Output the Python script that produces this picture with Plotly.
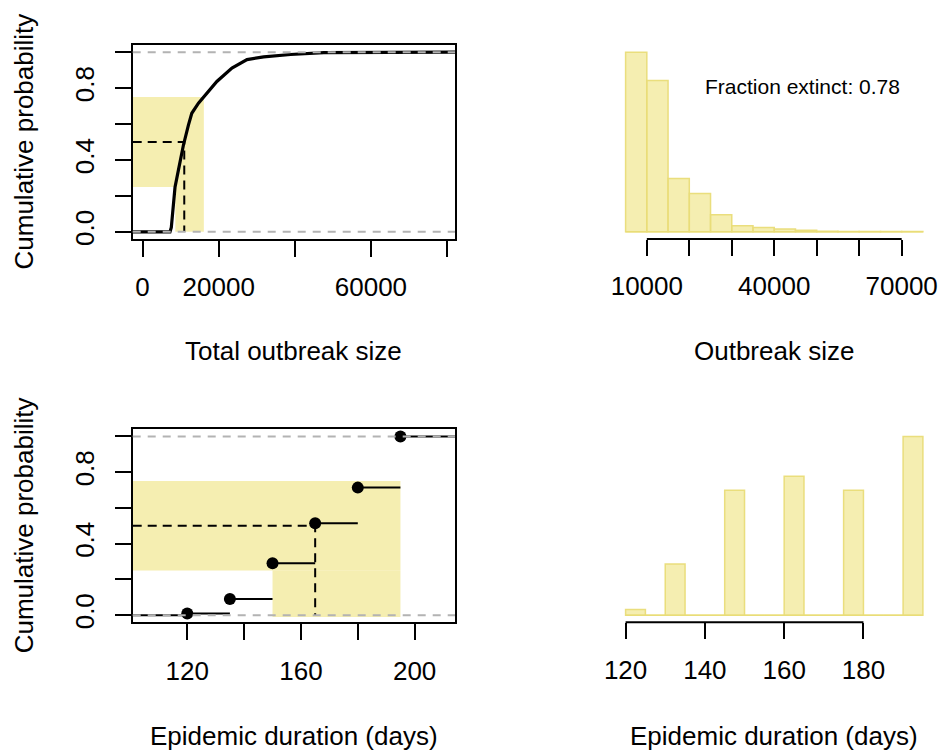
import numpy as np
import plotly.graph_objects as go

# ---------------- data ----------------
# Empirical CDF of total outbreak size (non-extinct runs)
ecdf_size = [7200, 7550, 8520, 9400, 10720, 12040, 12930, 14680, 16880,
             19520, 23480, 27440, 31820, 38870, 47650, 60000, 73000]
ecdf_prob = [0.0, 0.024, 0.248, 0.342, 0.482, 0.594, 0.66, 0.716, 0.772,
             0.837, 0.912, 0.959, 0.974, 0.987, 0.997, 0.999, 1.0]
size_quartiles = [8600, 10950, 16100]          # 25 %, 50 %, 75 %

# Histogram of outbreak size
size_breaks = list(range(5000, 80000, 5000))
size_counts = [860, 725, 255, 183, 82, 29, 21, 13, 8, 3, 2, 2, 1, 1]
fraction_extinct = 0.78

# Epidemic duration (days) and number of runs with each duration
duration_days = [120, 135, 150, 165, 180, 195]
duration_counts = [2, 18, 44, 49, 44, 63]
duration_quartiles = [150, 165, 195]
duration_breaks = list(range(120, 200, 5))

# tick labels
size_ticks = [0, 20000, 40000, 60000, 80000]
size_ticktext = ["0", "20000", "", "60000", ""]
hist_ticks = [10000, 20000, 30000, 40000, 50000, 60000, 70000]
hist_ticktext = ["10000", "", "", "40000", "", "", "70000"]
dur_ticks = [120, 140, 160, 180, 200]
dur_ticktext = ["120", "", "160", "", "200"]
durh_ticks = [120, 140, 160, 180]
durh_ticktext = ["120", "140", "160", "180"]
prob_ticks = [0, 0.2, 0.4, 0.6, 0.8, 1.0]
prob_ticktext = ["0.0", "", "0.4", "", "0.8", ""]

# ---------------- style ----------------
W, H = 942, 752
FONT = "Liberation Sans, Arial, Helvetica, sans-serif"
FS = 26
BAND = "rgba(240,230,140,0.68)"
BAR_FILL = "rgba(240,230,140,0.68)"
BAR_EDGE = "rgba(233,220,120,0.95)"
GREY = "#b3b3b3"

# plot regions (pixels) -> paper domains
def xdom(a, b):
    return [a / W, b / W]

def ydom(top, bottom):
    return [1 - bottom / H, 1 - top / H]

XL = xdom(132.7, 455.0)
XR = xdom(613.7, 934.8)
YT = ydom(45.0, 239.0)
YB = ydom(429.3, 622.3)

# axis ranges (R style 4 % padding)
def pad(lo, hi, f=0.04):
    d = (hi - lo) * f
    return [lo - d, hi + d]

size_xlim = [-2600, 82100]
dur_xlim = pad(duration_days[0] - 15, duration_days[-1] + 15)
prob_ylim = pad(0, 1)
size_hist_xlim = pad(size_breaks[0], size_breaks[-1])
size_hist_ylim = pad(0, max(size_counts))

dur_bins = np.zeros(len(duration_breaks) - 1)
for d, c in zip(duration_days, duration_counts):
    i = max(int(np.searchsorted(duration_breaks, d, side="left")) - 1, 0)
    dur_bins[i] += c
dur_hist_xlim = pad(duration_breaks[0], duration_breaks[-1])
dur_hist_ylim = pad(0, dur_bins.max())

dur_cdf = np.cumsum(duration_counts) / np.sum(duration_counts)

fig = go.Figure()
shapes = []

# ======== top-left: ECDF of outbreak size ========
q25, q50, q75 = size_quartiles
shapes += [
    dict(type="rect", xref="x", yref="y", x0=size_xlim[0], x1=q75, y0=0.25, y1=0.75,
         fillcolor=BAND, line=dict(width=0), layer="below"),
    dict(type="rect", xref="x", yref="y", x0=q25, x1=q75, y0=0, y1=0.25,
         fillcolor=BAND, line=dict(width=0), layer="below"),
]
fig.add_trace(go.Scatter(
    x=[size_xlim[0]] + ecdf_size + [size_xlim[1]],
    y=[0] + ecdf_prob + [1],
    mode="lines", line=dict(color="black", width=3.2),
    xaxis="x", yaxis="y", showlegend=False, hoverinfo="skip"))
fig.add_trace(go.Scatter(
    x=[size_xlim[0], q50, q50], y=[0.5, 0.5, 0],
    mode="lines", line=dict(color="black", width=2, dash="9px,6px"),
    xaxis="x", yaxis="y", showlegend=False, hoverinfo="skip"))

# ======== bottom-left: ECDF of epidemic duration ========
d25, d50, d75 = duration_quartiles
shapes += [
    dict(type="rect", xref="x3", yref="y3", x0=dur_xlim[0], x1=d75, y0=0.25, y1=0.75,
         fillcolor=BAND, line=dict(width=0), layer="below"),
    dict(type="rect", xref="x3", yref="y3", x0=d25, x1=d75, y0=-0.01, y1=0.25,
         fillcolor=BAND, line=dict(width=0), layer="below"),
]
sx, sy = [dur_xlim[0], duration_days[0], None], [0, 0, None]
ends = duration_days[1:] + [dur_xlim[1]]
for a, b, p in zip(duration_days, ends, dur_cdf):
    sx += [a, b, None]
    sy += [p, p, None]
fig.add_trace(go.Scatter(
    x=sx, y=sy, mode="lines", line=dict(color="black", width=2),
    xaxis="x3", yaxis="y3", showlegend=False, hoverinfo="skip"))
fig.add_trace(go.Scatter(
    x=duration_days, y=dur_cdf, mode="markers",
    marker=dict(color="black", size=12),
    xaxis="x3", yaxis="y3", showlegend=False, hoverinfo="skip"))
fig.add_trace(go.Scatter(
    x=[dur_xlim[0], d50, d50], y=[0.5, 0.5, 0],
    mode="lines", line=dict(color="black", width=2, dash="9px,6px"),
    xaxis="x3", yaxis="y3", showlegend=False, hoverinfo="skip"))

# grey reference lines at 0 and 1 on both ECDF panels
for xr, yr in (("x", "y"), ("x3", "y3")):
    for h in (0, 1):
        shapes.append(dict(type="line", xref=xr + " domain", yref=yr, x0=0, x1=1,
                           y0=h, y1=h, line=dict(color=GREY, width=2, dash="8px,7px"),
                           layer="above"))

# ======== top-right: histogram of outbreak size ========
sb = np.array(size_breaks, dtype=float)
fig.add_trace(go.Bar(
    x=(sb[:-1] + sb[1:]) / 2, y=size_counts, width=np.diff(sb),
    marker=dict(color=BAR_FILL, line=dict(color=BAR_EDGE, width=1.5)),
    xaxis="x2", yaxis="y2", showlegend=False, hoverinfo="skip"))
shapes.append(dict(type="line", xref="x2", yref="y2", x0=size_breaks[0], x1=size_breaks[-1],
                   y0=0, y1=0, line=dict(color=BAR_EDGE, width=1.5)))
shapes.append(dict(type="line", xref="x2", yref="y2 domain", x0=hist_ticks[0], x1=hist_ticks[-1],
                   y0=0, y1=0, line=dict(color="black", width=2)))

# ======== bottom-right: histogram of epidemic duration ========
db = np.array(duration_breaks, dtype=float)
fig.add_trace(go.Bar(
    x=(db[:-1] + db[1:]) / 2, y=dur_bins, width=np.diff(db),
    marker=dict(color=BAR_FILL, line=dict(color=BAR_EDGE, width=1.5)),
    xaxis="x4", yaxis="y4", showlegend=False, hoverinfo="skip"))
shapes.append(dict(type="line", xref="x4", yref="y4", x0=duration_breaks[0], x1=duration_breaks[-1],
                   y0=0, y1=0, line=dict(color=BAR_EDGE, width=1.5)))
shapes.append(dict(type="line", xref="x4", yref="y4 domain", x0=durh_ticks[0], x1=durh_ticks[-1],
                   y0=0, y1=0, line=dict(color="black", width=2)))

# ---------------- axes ----------------
tickfont = dict(family=FONT, size=FS, color="black")

def box_x(dom, rng, vals, text, anchor):
    return dict(domain=dom, range=rng, anchor=anchor, tickvals=vals, ticktext=text,
                ticks="outside", ticklen=16, tickwidth=2, tickcolor="black",
                showline=True, linecolor="black", linewidth=2, mirror=True,
                showgrid=False, zeroline=False, tickfont=tickfont, automargin=False,
                ticklabelstandoff=8, fixedrange=True)

def box_y(dom, rng, anchor):
    return dict(domain=dom, range=rng, anchor=anchor, tickvals=prob_ticks,
                ticktext=prob_ticktext, tickangle=-90,
                ticks="outside", ticklen=16, tickwidth=2, tickcolor="black",
                showline=True, linecolor="black", linewidth=2, mirror=True,
                showgrid=False, zeroline=False, tickfont=tickfont, automargin=False,
                ticklabelstandoff=10, fixedrange=True)

def open_x(dom, rng, vals, text, anchor):
    return dict(domain=dom, range=rng, anchor=anchor, tickvals=vals, ticktext=text,
                ticks="outside", ticklen=16, tickwidth=2, tickcolor="black",
                showline=False, showgrid=False, zeroline=False, tickfont=tickfont,
                automargin=False, ticklabelstandoff=8, fixedrange=True)

def open_y(dom, rng, anchor):
    return dict(domain=dom, range=rng, anchor=anchor, visible=False,
                automargin=False, fixedrange=True)

annotations = []

def add_title(text, x_px, y_px, angle=0):
    annotations.append(dict(text=text, x=x_px / W, y=1 - y_px / H, xref="paper", yref="paper",
                            showarrow=False, textangle=angle, xanchor="center", yanchor="middle",
                            font=dict(family=FONT, size=FS, color="black")))

add_title("Total outbreak size", (132.7 + 455) / 2, 351)
add_title("Outbreak size", (613.7 + 934.8) / 2, 351)
add_title("Epidemic duration (days)", (132.7 + 455) / 2, 736)
add_title("Epidemic duration (days)", (613.7 + 934.8) / 2, 736)
add_title("Cumulative probability", 23.5, (45 + 239) / 2, -90)
add_title("Cumulative probability", 23.5, (429.3 + 622.3) / 2, -90)

annotations.append(dict(text=f"Fraction extinct: {fraction_extinct:.2f}",
                        x=802.5 / W, y=1 - 86.5 / H, xref="paper", yref="paper",
                        showarrow=False, xanchor="center", yanchor="middle",
                        font=dict(family=FONT, size=21, color="black")))

fig.update_layout(
    width=W, height=H,
    margin=dict(l=0, r=0, t=0, b=0, autoexpand=False),
    paper_bgcolor="white", plot_bgcolor="rgba(0,0,0,0)",
    font=dict(family=FONT, color="black"),
    showlegend=False, barmode="overlay",
    xaxis=box_x(XL, size_xlim, size_ticks, size_ticktext, "y"),
    yaxis=box_y(YT, prob_ylim, "x"),
    xaxis2=open_x(XR, size_hist_xlim, hist_ticks, hist_ticktext, "y2"),
    yaxis2=open_y(YT, size_hist_ylim, "x2"),
    xaxis3=box_x(XL, dur_xlim, dur_ticks, dur_ticktext, "y3"),
    yaxis3=box_y(YB, prob_ylim, "x3"),
    xaxis4=open_x(XR, dur_hist_xlim, durh_ticks, durh_ticktext, "y4"),
    yaxis4=open_y(YB, dur_hist_ylim, "x4"),
    shapes=shapes,
    annotations=annotations,
)

fig.write_html("out.html", config={"displayModeBar": False})
